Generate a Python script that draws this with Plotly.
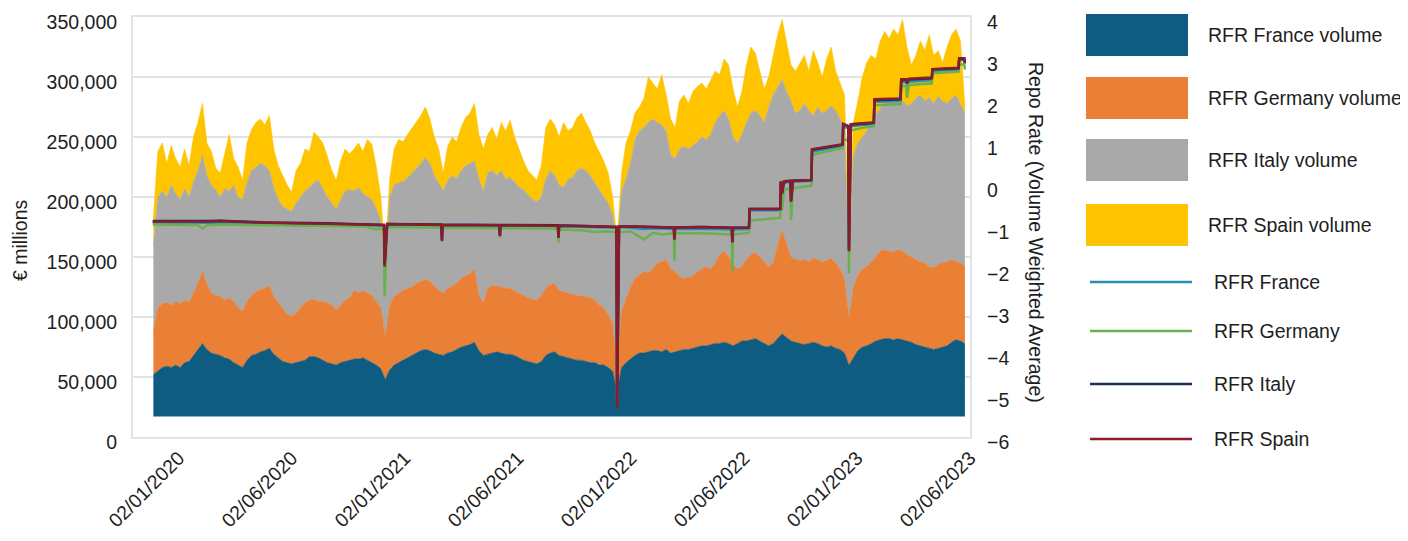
import pandas as pd
import plotly.graph_objects as go

# weekly (Friday) observations of the daily RFR repo volumes, € bn
week_dates = pd.date_range("2020-01-03", periods=183, freq="7D")

france_bn = [35, 38, 41, 42, 41, 43, 41, 45, 46, 51,
             56, 61, 56, 53, 52, 51, 49, 48, 45, 43,
             41, 47, 51, 52, 54, 55, 57, 52, 49, 46,
             45, 44, 45, 46, 47, 50, 50, 49, 47, 45,
             44, 43, 45, 46, 47, 48, 48, 49, 47, 45,
             43, 40, 31, 39, 43, 45, 47, 49, 51, 53,
             55, 56, 55, 53, 52, 51, 53, 54, 56, 58,
             59, 60, 62, 55, 51, 52, 53, 54, 53, 52,
             52, 51, 49, 47, 46, 45, 44, 46, 51, 53,
             54, 51, 50, 49, 48, 47, 47, 46, 45, 45,
             43, 43, 41, 38, 21, 41, 45, 48, 51, 53,
             53, 54, 55, 55, 54, 56, 53, 54, 55, 56,
             56, 57, 58, 59, 59, 60, 61, 61, 62, 61,
             59, 61, 63, 63, 64, 65, 63, 61, 59, 61,
             65, 69, 66, 63, 62, 61, 60, 61, 62, 61,
             59, 58, 59, 57, 56, 53, 43, 49, 55, 58,
             59, 61, 63, 64, 65, 65, 64, 65, 64, 63,
             62, 60, 59, 58, 57, 56, 57, 58, 59, 62,
             64, 63, 61]

germany_bn = [36, 53, 53, 53, 52, 53, 53, 52, 49, 52,
              55, 60, 54, 50, 49, 49, 48, 51, 51, 48,
              47, 49, 50, 52, 52, 52, 52, 48, 46, 43,
              40, 40, 41, 45, 48, 47, 48, 47, 49, 50,
              49, 46, 48, 51, 52, 57, 55, 56, 56, 56,
              53, 51, 36, 54, 57, 58, 58, 58, 57, 58,
              58, 58, 58, 56, 53, 52, 54, 55, 55, 57,
              58, 59, 61, 46, 44, 55, 56, 55, 55, 55,
              55, 54, 54, 54, 53, 53, 53, 55, 56, 57,
              57, 54, 54, 54, 54, 54, 54, 54, 54, 52,
              50, 48, 44, 40, 17, 47, 53, 60, 64, 65,
              68, 66, 68, 73, 75, 75, 70, 67, 62, 59,
              60, 60, 63, 64, 66, 63, 67, 74, 76, 72,
              68, 62, 62, 68, 71, 72, 70, 68, 66, 67,
              78, 86, 77, 70, 69, 69, 71, 68, 70, 70,
              70, 72, 73, 71, 67, 62, 40, 59, 63, 65,
              66, 68, 70, 74, 74, 73, 73, 74, 74, 72,
              71, 71, 70, 70, 68, 68, 70, 70, 70, 69,
              65, 65, 64]

italy_bn = [72, 92, 94, 88, 100, 90, 87, 93, 88, 93,
            94, 97, 91, 90, 88, 83, 93, 89, 97, 92,
            93, 99, 104, 104, 105, 102, 96, 91, 86, 86,
            88, 87, 92, 92, 93, 94, 97, 101, 94, 88,
            85, 84, 88, 91, 90, 83, 88, 81, 80, 80,
            77, 72, 61, 90, 93, 92, 91, 92, 95, 96,
            98, 102, 98, 92, 90, 85, 90, 92, 87, 90,
            92, 92, 90, 97, 93, 96, 96, 92, 97, 91,
            92, 91, 88, 88, 86, 83, 82, 82, 91, 95,
            90, 88, 87, 95, 97, 104, 106, 105, 102, 98,
            95, 92, 93, 90, 105, 100, 100, 103, 116, 120,
            120, 125, 125, 117, 114, 107, 95, 94, 106, 110,
            107, 109, 108, 110, 106, 112, 117, 116, 117, 115,
            106, 105, 110, 114, 118, 118, 118, 116, 133, 140,
            132, 126, 128, 130, 122, 125, 130, 126, 119, 127,
            124, 125, 127, 127, 125, 126, 40, 110, 110, 110,
            113, 116, 118, 120, 124, 127, 124, 129, 125, 124,
            128, 134, 139, 135, 141, 137, 140, 135, 132, 134,
            139, 133, 128]

spain_bn = [23, 38, 40, 28, 33, 29, 27, 33, 26, 37,
            40, 43, 27, 28, 18, 20, 29, 47, 22, 25,
            16, 33, 34, 37, 37, 34, 46, 32, 28, 26,
            20, 16, 27, 28, 35, 30, 42, 36, 38, 34,
            27, 24, 32, 35, 30, 35, 37, 35, 48, 46,
            35, 20, 5, 15, 30, 36, 33, 36, 37, 38,
            40, 42, 37, 32, 28, 15, 28, 32, 31, 36,
            40, 42, 48, 37, 35, 32, 36, 30, 40, 40,
            48, 37, 32, 24, 20, 20, 18, 26, 43, 43,
            42, 40, 54, 40, 42, 44, 46, 40, 37, 33,
            33, 30, 25, 15, 3, 15, 30, 27, 22, 20,
            24, 38, 30, 28, 42, 30, 30, 26, 40, 43,
            38, 45, 46, 45, 42, 46, 43, 34, 43, 45,
            40, 30, 36, 48, 55, 48, 37, 28, 25, 33,
            43, 50, 42, 30, 35, 40, 40, 33, 54, 37,
            30, 43, 49, 33, 30, 27, 25, 27, 35, 50,
            57, 56, 47, 55, 58, 50, 62, 50, 68, 49,
            32, 36, 45, 42, 52, 40, 38, 32, 47, 53,
            55, 52, 5]

# repo rates (volume weighted average), key dates only
rate_dates = ["2020-01-02", "2020-02-28", "2020-03-13", "2020-03-20", "2020-03-27",
              "2020-04-17", "2020-06-30", "2020-09-30", "2020-12-01", "2020-12-15",
              "2020-12-30", "2020-12-31", "2021-01-04", "2021-03-30", "2021-03-31",
              "2021-04-01", "2021-06-29", "2021-06-30", "2021-07-01", "2021-09-29",
              "2021-09-30", "2021-10-01", "2021-11-05", "2021-11-26", "2021-12-15",
              "2021-12-30", "2021-12-31", "2022-01-03", "2022-01-21", "2022-02-11",
              "2022-02-25", "2022-03-11", "2022-03-30", "2022-03-31", "2022-04-01",
              "2022-05-13", "2022-06-29", "2022-06-30", "2022-07-01", "2022-07-26",
              "2022-07-27", "2022-09-13", "2022-09-14", "2022-09-16", "2022-09-19",
              "2022-09-29", "2022-09-30", "2022-10-03", "2022-11-01", "2022-11-02",
              "2022-12-20", "2022-12-21", "2022-12-29", "2022-12-30", "2023-01-02",
              "2023-01-20", "2023-02-07", "2023-02-08", "2023-03-21", "2023-03-22",
              "2023-03-30", "2023-03-31", "2023-04-03", "2023-05-09", "2023-05-10",
              "2023-06-20", "2023-06-21", "2023-06-29", "2023-06-30"]

rfr_france = [-0.89, -0.90, -0.90, -0.90, -0.90, -0.89, -0.91, -0.93, -0.95, -0.96,
              -0.97, -1.50, -0.94, -0.96, -1.10, -0.96, -0.97, -1.10, -0.97, -0.98,
              -1.15, -0.98, -0.99, -1.00, -1.01, -1.02, -5.20, -1.00, -1.02, -1.05,
              -1.03, -1.04, -1.05, -1.20, -1.05, -1.04, -1.06, -1.30, -1.06, -1.05,
              -0.60, -0.60, 0.05, -0.05, 0.05, 0.08, -0.30, 0.08, 0.10, 0.80,
              0.93, 1.40, 1.35, -1.45, 1.40, 1.43, 1.45, 1.98, 2.00, 2.45,
              2.45, 2.40, 2.46, 2.50, 2.72, 2.75, 2.97, 2.98, 2.88]

rfr_germany = [-0.94, -0.94, -0.95, -1.04, -0.96, -0.94, -0.96, -0.97, -0.99, -1.05,
               -1.05, -2.65, -1.00, -1.02, -1.28, -1.02, -1.03, -1.25, -1.03, -1.04,
               -1.37, -1.06, -1.08, -1.12, -1.10, -1.12, -5.25, -1.12, -1.10, -1.30,
               -1.14, -1.18, -1.15, -1.80, -1.15, -1.15, -1.18, -2.06, -1.18, -1.14,
               -0.85, -0.78, -0.15, -0.60, -0.12, -0.08, -0.84, -0.08, -0.02, 0.72,
               0.88, 1.10, 1.05, -2.10, 1.30, 1.36, 1.40, 1.90, 1.93, 2.36,
               2.36, 2.08, 2.38, 2.42, 2.66, 2.70, 2.85, 2.88, 2.75]

rfr_italy = [-0.86, -0.87, -0.87, -0.87, -0.86, -0.85, -0.89, -0.91, -0.93, -0.94,
             -0.95, -1.90, -0.93, -0.94, -1.30, -0.94, -0.95, -1.20, -0.95, -0.96,
             -1.24, -0.96, -0.97, -0.98, -0.99, -1.00, -5.30, -0.99, -0.99, -1.00,
             -1.00, -1.00, -1.01, -1.28, -1.01, -1.00, -1.02, -1.35, -1.02, -1.01,
             -0.57, -0.57, 0.08, -0.20, 0.08, 0.10, -0.38, 0.10, 0.12, 0.84,
             0.96, 1.45, 1.40, -1.55, 1.44, 1.46, 1.48, 2.02, 2.04, 2.50,
             2.50, 2.42, 2.51, 2.54, 2.75, 2.78, 3.00, 3.01, 2.92]

rfr_spain = [-0.87, -0.88, -0.88, -0.88, -0.87, -0.86, -0.90, -0.92, -0.93, -0.94,
             -0.95, -1.94, -0.93, -0.95, -1.34, -0.95, -0.96, -1.22, -0.96, -0.97,
             -1.26, -0.97, -0.97, -0.98, -0.99, -1.00, -5.31, -0.99, -0.99, -1.00,
             -1.00, -1.00, -1.01, -1.30, -1.01, -1.00, -1.02, -1.37, -1.02, -1.01,
             -0.57, -0.57, 0.09, -0.20, 0.09, 0.10, -0.40, 0.10, 0.12, 0.85,
             0.97, 1.45, 1.40, -1.58, 1.45, 1.47, 1.49, 2.04, 2.06, 2.52,
             2.52, 2.44, 2.53, 2.56, 2.76, 2.79, 3.02, 3.02, 2.90]

tick_text = ["02/01/2020", "02/06/2020", "02/01/2021", "02/06/2021",
             "02/01/2022", "02/06/2022", "02/01/2023", "02/06/2023"]

AREA_BASE_BN = 17  # the stacked areas sit on this level in the source chart

FONT = "Liberation Sans, Arial, Helvetica, sans-serif"
TXT = "#1e1e1e"
GRID = "#e0e4e4"

volumes = [
    ("RFR France volume", france_bn, "#0f5c82"),
    ("RFR Germany volume", germany_bn, "#e98035"),
    ("RFR Italy volume", italy_bn, "#a9a9a9"),
    ("RFR Spain volume", spain_bn, "#ffc400"),
]
rates = [
    ("RFR France", rfr_france, "#2a8db4"),
    ("RFR Germany", rfr_germany, "#6ab04c"),
    ("RFR Italy", rfr_italy, "#1b2f5c"),
    ("RFR Spain", rfr_spain, "#8a1b2d"),
]

fig = go.Figure()
fig.add_trace(go.Scatter(x=week_dates, y=[AREA_BASE_BN * 1000] * len(week_dates),
                         stackgroup="vol", mode="lines", line=dict(width=0),
                         fillcolor="rgba(0,0,0,0)", showlegend=False, hoverinfo="skip"))
for name, vals, color in volumes:
    fig.add_trace(go.Scatter(x=week_dates, y=[v * 1000 for v in vals], name=name,
                             stackgroup="vol", mode="lines",
                             line=dict(width=0.6, color=color), fillcolor=color))
for name, vals, color in rates:
    fig.add_trace(go.Scatter(x=rate_dates, y=vals, name=name, yaxis="y2", mode="lines",
                             line=dict(width=2.5, color=color)))

# the page body adds an 8px margin, so work in screen pixels minus that offset
OFF = 8
W, H = 1408 - OFF, 541 - OFF
PL, PR, PT, PB = 133 - OFF, 970 - OFF, 17 - OFF, 437 - OFF
def px(x):
    return (x - OFF - PL) / (PR - PL)
def py(y):
    return (PB - (y - OFF)) / (PB - PT)

shapes, annotations = [], []
legend_rows = [35, 98, 160, 225, 282, 331, 384, 439]
for (name, _, color), yc in zip(volumes + rates, legend_rows):
    if name.endswith("volume"):
        shapes.append(dict(type="rect", xref="paper", yref="paper",
                           x0=px(1086), x1=px(1188), y0=py(yc + 21), y1=py(yc - 21),
                           fillcolor=color, line=dict(width=0)))
        tx = 1206
    else:
        shapes.append(dict(type="line", xref="paper", yref="paper",
                           x0=px(1090), x1=px(1192), y0=py(yc), y1=py(yc),
                           line=dict(color=color, width=2.5)))
        tx = 1212
    annotations.append(dict(text=name, xref="paper", yref="paper", x=px(tx), y=py(yc),
                            xanchor="left", yanchor="middle", showarrow=False,
                            font=dict(size=19.5, color=TXT)))

annotations.append(dict(text="€ millions", xref="paper", yref="paper", x=px(20), y=py(240),
                        xanchor="center", yanchor="middle",
                        textangle=-90, showarrow=False, font=dict(size=19.5, color=TXT)))
annotations.append(dict(text="Repo Rate (Volume Weighted Average)", xref="paper", yref="paper",
                        x=px(1036), y=py(232), xanchor="center", yanchor="middle",
                        textangle=90, showarrow=False, font=dict(size=19.5, color=TXT)))

tick_vals = pd.date_range("2020-02-12", "2023-07-08", periods=len(tick_text))

fig.update_layout(
    template="none",
    width=W, height=H,
    margin=dict(l=PL, r=W - PR, t=PT, b=H - PB, pad=0),
    paper_bgcolor="white", plot_bgcolor="white",
    font=dict(family=FONT, size=19.5, color=TXT),
    showlegend=False,
    shapes=shapes, annotations=annotations,
    xaxis=dict(type="date", range=["2019-12-02", "2023-07-08"],
               tickvals=tick_vals, ticktext=tick_text, tickangle=-45,
               showgrid=False, zeroline=False, ticks="",
               showline=True, mirror=True, linecolor=GRID, linewidth=2,
               ticklabeloverflow="allow", automargin=False),
    yaxis=dict(range=[0, 350000], dtick=50000, tickformat=",", ticks="",
               showgrid=True, gridcolor=GRID, gridwidth=2, zeroline=False,
               showline=True, mirror=True, linecolor=GRID, linewidth=2,
               ticklabelstandoff=10, ticklabelshift=5,
               ticklabeloverflow="allow", automargin=False),
    yaxis2=dict(range=[-6, 4], dtick=1, overlaying="y", side="right",
                showgrid=False, zeroline=False, ticks="", showline=False,
                ticklabelstandoff=16, ticklabelshift=5,
                ticklabeloverflow="allow", automargin=False),
)

fig.write_html("out.html")
